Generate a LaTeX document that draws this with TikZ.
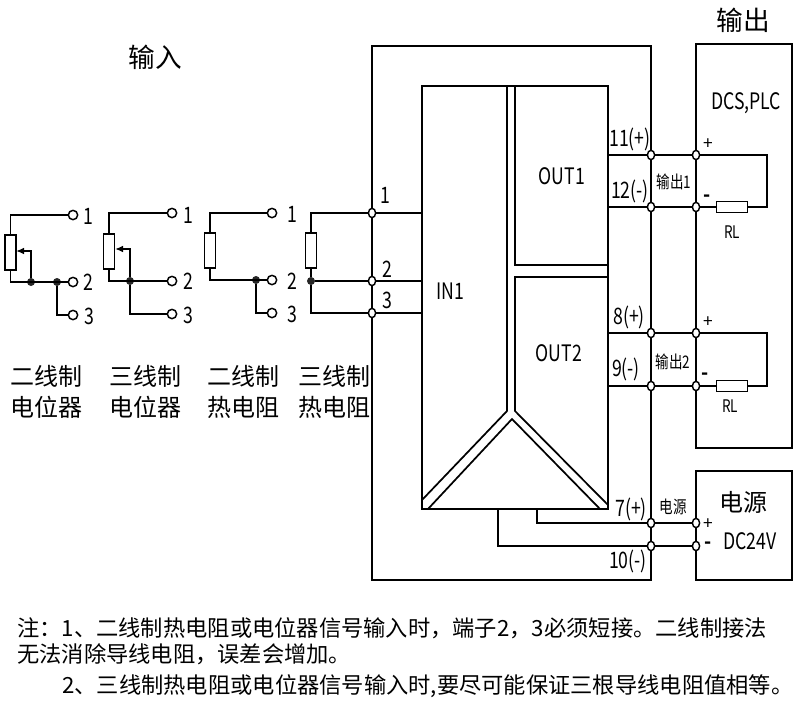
\documentclass[tikz,border=0pt]{standalone}
\usepackage{fontspec}
\setmainfont{Noto Sans CJK SC}
\newfontfamily\narrowfont[FakeStretch=0.78]{Noto Sans CJK SC}
\usetikzlibrary{arrows.meta, positioning, calc, shapes, shapes.geometric}
\tikzset{
  wire/.style={line width=1.25pt},
  frame/.style={line width=1.3pt},
  term/.style={draw, line width=1.1pt, fill=white, circle, inner sep=0pt, minimum size=7pt},
  busterm/.style={draw, line width=1.1pt, fill=white, ellipse, inner sep=0pt, minimum width=5.4pt, minimum height=7pt},
  joint/.style={fill=black!85, circle, inner sep=0pt, minimum size=6pt},
  resv/.style={draw, line width=1.1pt, fill=white, inner sep=0pt, minimum width=8.4pt, minimum height=26pt},
  resh/.style={draw, line width=1.1pt, fill=white, inner sep=0pt, minimum width=23pt, minimum height=8.4pt},
  lab/.style={inner sep=0pt, font=\narrowfont\fontsize{17}{17}\selectfont},
  small/.style={inner sep=0pt, font=\narrowfont\fontsize{13}{13}\selectfont},
  capt/.style={inner sep=0pt, font=\fontsize{18}{18}\selectfont},
  big/.style={inner sep=0pt, font=\fontsize{20}{20}\selectfont},
  sign/.style={inner sep=0pt, font=\fontsize{13}{13}\selectfont},
  minus/.style={inner sep=0pt, font=\bfseries\fontsize{14}{14}\selectfont},
  note/.style={inner sep=0pt, anchor=west, font=\fontsize{16.7}{16.7}\selectfont}
}
\begin{document}
\begin{tikzpicture}[x=0.75pt, y=-0.75pt]
  \useasboundingbox (0,0) rectangle (800,711);

  % Isolator housing
  \draw[frame] (372,46) rectangle (651,580);
  \draw[line width=1.7pt] (651,46) -- (651,580);

  % Output and supply boxes
  \draw[frame] (696,44) rectangle (792,448);
  \draw[frame] (696,471) rectangle (792,580);

  % Inner module
  \draw[frame] (422,86) rectangle (608,509);
  \draw[frame] (507,86) -- (507,411) -- (422,500);
  \draw[frame] (515,86) -- (515,265) -- (608,265);
  \draw[frame] (608,277) -- (515,277) -- (515,411) -- (608,505);
  \draw[frame] (428,509) -- (512,419) -- (600,509);

  % Ports of the module
  \coordinate (pin1) at (422,213);
  \coordinate (pin2) at (422,281);
  \coordinate (pin3) at (422,313);
  \coordinate (p11) at (608,155);
  \coordinate (p12) at (608,207);
  \coordinate (p8) at (608,333);
  \coordinate (p9) at (608,386);
  \coordinate (p7) at (537,509);
  \coordinate (p10) at (498,509);

  % Two wire potentiometer
  \node[term] (a1) at (73,215) {};
  \node[term] (a2) at (73,282) {};
  \node[term] (a3) at (73,315) {};
  \node[resv] (ra) at (10.5,252.5) {};
  \node[joint] (ja) at (31,282) {};
  \node[joint] (jb) at (57,282) {};
  \coordinate (wa) at (16,251);
  \draw[wire] (ra.north) |- (a1);
  \draw[wire] (ra.south) |- (a2);
  \draw[wire] (jb) |- (a3);
  \draw[wire, -{Latex[length=6pt,width=5pt]}] (ja) |- (wa);

  % Three wire potentiometer
  \node[term] (b1) at (172,213) {};
  \node[term] (b2) at (172,281) {};
  \node[term] (b3) at (172,314) {};
  \node[resv] (rb) at (109,251.5) {};
  \node[joint] (jc) at (130,281) {};
  \coordinate (wb) at (115,249);
  \draw[wire] (rb.north) |- (b1);
  \draw[wire] (rb.south) |- (b2);
  \draw[wire] (jc) |- (b3);
  \draw[wire, -{Latex[length=6pt,width=5pt]}] (jc) |- (wb);

  % Two wire RTD
  \node[term] (c1) at (272,213) {};
  \node[term] (c2) at (272,280) {};
  \node[term] (c3) at (272,313) {};
  \node[resv] (rc) at (210,250.5) {};
  \node[joint] (jd) at (256,280) {};
  \draw[wire] (rc.north) |- (c1);
  \draw[wire] (rc.south) |- (c2);
  \draw[wire] (jd) |- (c3);

  % Three wire RTD
  \node[busterm] (d1) at (372,213) {};
  \node[busterm] (d2) at (372,281) {};
  \node[busterm] (d3) at (372,313) {};
  \node[resv] (rd) at (311,250.5) {};
  \node[joint] (je) at (311,281) {};
  \draw[wire] (rd.north) |- (d1);
  \draw[wire] (rd.south) -- (je);
  \draw[wire] (je) -- (d2);
  \draw[wire] (je) |- (d3);
  \draw[wire] (d1) -- (pin1);
  \draw[wire] (d2) -- (pin2);
  \draw[wire] (d3) -- (pin3);

  % Output 1
  \node[busterm] (e1) at (651,155) {};
  \node[busterm] (e2) at (651,207) {};
  \node[busterm] (f1) at (696,155) {};
  \node[busterm] (f2) at (696,207) {};
  \node[resh] (rl1) at (732,207) {};
  \coordinate (cr1) at (767,155);
  \draw[wire] (p11) -- (e1);
  \draw[wire] (p12) -- (e2);
  \draw[wire] (e1) -- (f1);
  \draw[wire] (e2) -- (f2);
  \draw[wire] (f2) -- (rl1);
  \draw[wire] (f1) -- (cr1) |- (rl1);

  % Output 2
  \node[busterm] (g1) at (651,333) {};
  \node[busterm] (g2) at (651,386) {};
  \node[busterm] (h1) at (696,333) {};
  \node[busterm] (h2) at (696,386) {};
  \node[resh] (rl2) at (732,386) {};
  \coordinate (cr2) at (767,333);
  \draw[wire] (p8) -- (g1);
  \draw[wire] (p9) -- (g2);
  \draw[wire] (g1) -- (h1);
  \draw[wire] (g2) -- (h2);
  \draw[wire] (h2) -- (rl2);
  \draw[wire] (h1) -- (cr2) |- (rl2);

  % Supply
  \node[busterm] (k1) at (651,523) {};
  \node[busterm] (k2) at (651,546) {};
  \node[busterm] (m1) at (696,523) {};
  \node[busterm] (m2) at (696,546) {};
  \draw[wire] (p7) |- (k1);
  \draw[wire] (p10) |- (k2);
  \draw[wire] (k1) -- (m1);
  \draw[wire] (k2) -- (m2);

  % Terminal numbers
  \node[lab] (n1a) at (88,216) {1};
  \node[lab] (n2a) at (88,282) {2};
  \node[lab] (n3a) at (89,316) {3};
  \node[lab] (n1b) at (188,215) {1};
  \node[lab] (n2b) at (188,281) {2};
  \node[lab] (n3b) at (188,315) {3};
  \node[lab] (n1c) at (292,214) {1};
  \node[lab] (n2c) at (292,281) {2};
  \node[lab] (n3c) at (292,314) {3};
  \node[lab] (n1d) at (385,195) {1};
  \node[lab] (n2d) at (387,269) {2};
  \node[lab] (n3d) at (387,300) {3};
  \node[lab] (n11) at (630,139) {11(+)};
  \node[lab] (n12) at (630,191) {12(-)};
  \node[lab] (n8) at (629,317) {8(+)};
  \node[lab] (n9) at (626,369) {9(-)};
  \node[lab] (n7) at (631,509) {7(+)};
  \node[lab] (n10) at (628,561) {10(-)};

  % Block names
  \node[lab] (tin) at (450,291) {IN1};
  \node[lab] (tout1) at (562,176) {OUT1};
  \node[lab] (tout2) at (559,353) {OUT2};
  \node[lab] (tdcs) at (746,103) {DCS,PLC};
  \node[lab] (tdc) at (750,541) {DC24V};
  \node[capt] (tpow) at (743,502) {电源};
  \node[big] (tinp) at (155,57) {输入};
  \node[big] (toutp) at (743,20) {输出};

  % Small labels
  \node[small] (so1) at (674,182) {输出1};
  \node[small] (so2) at (673,362) {输出2};
  \node[small] (spw) at (673,507) {电源};
  \node[small] (rt1) at (732,232) {RL};
  \node[small] (rt2) at (730,406) {RL};
  \node[sign] (s1p) at (708,144) {+};
  \node[minus] (s1m) at (707,198) {-};
  \node[sign] (s2p) at (708,322) {+};
  \node[minus] (s2m) at (705,376) {-};
  \node[sign] (s3p) at (708,524) {+};
  \node[minus] (s3m) at (708,545) {-};

  % Captions of the inputs
  \node[capt] (t1a) at (47,376) {二线制};
  \node[capt] (t1b) at (47,407) {电位器};
  \node[capt] (t2a) at (145,376) {三线制};
  \node[capt] (t2b) at (145,407) {电位器};
  \node[capt] (t3a) at (243,376) {二线制};
  \node[capt] (t3b) at (243,407) {热电阻};
  \node[capt] (t4a) at (334,376) {三线制};
  \node[capt] (t4b) at (334,407) {热电阻};

  % Notes
  \node[note] (note1) at (17,628) {注：1、二线制热电阻或电位器信号输入时，端子2，3必须短接。二线制接法};
  \node[note] (note2) at (17,654) {无法消除导线电阻，误差会增加。};
  \node[note] (note3) at (62,686) {2、三线制热电阻或电位器信号输入时,要尽可能保证三根导线电阻值相等。};
\end{tikzpicture}
\end{document}
